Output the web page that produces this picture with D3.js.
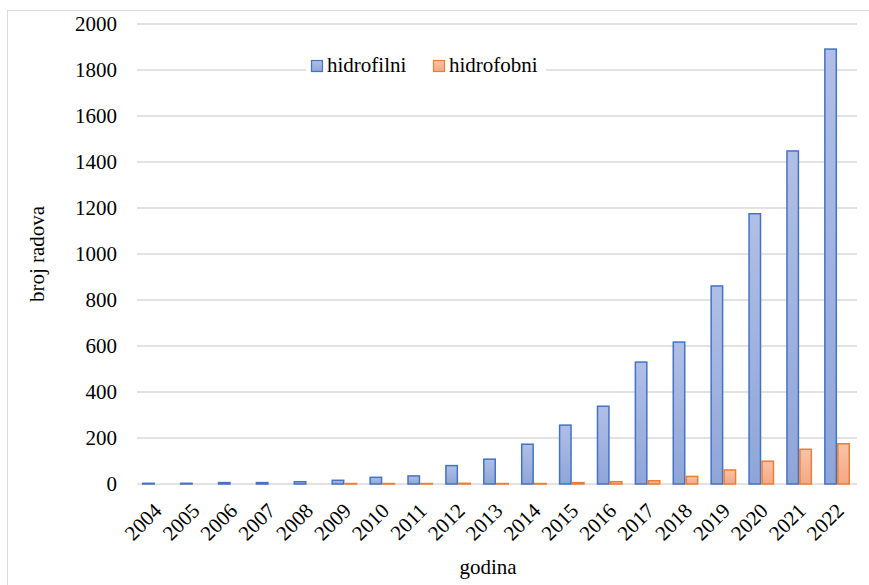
<!DOCTYPE html>
<html>
<head>
<meta charset="utf-8">
<script src="https://cdn.jsdelivr.net/npm/d3@7"></script>
<style>
  body { margin: 0; background: #fff; }
</style>
</head>
<body>
<div id="chart"></div>
<script>
const years = ["2004","2005","2006","2007","2008","2009","2010","2011","2012","2013","2014","2015","2016","2017","2018","2019","2020","2021","2022"];
const hidrofilni = [3, 3, 6, 6, 10, 16, 29, 35, 80, 108, 173, 256, 338, 530, 617, 861, 1175, 1448, 1891];
const hidrofobni = [0, 0, 0, 0, 0, 2, 2, 2, 3, 2, 2, 6, 10, 14, 33, 61, 99, 151, 175];
const yTicks = [0, 200, 400, 600, 800, 1000, 1200, 1400, 1600, 1800, 2000];
const seriesNames = ["hidrofilni", "hidrofobni"];

const W = 869, H = 585;
const margin = {top: 24, right: 12, bottom: 101, left: 137};
const width = W - margin.left - margin.right;
const height = H - margin.top - margin.bottom;
const serif = '"Liberation Serif", "Times New Roman", Times, "DejaVu Serif", serif';

const svg = d3.select("#chart").append("svg")
    .attr("width", W)
    .attr("height", H)
    .attr("font-family", serif)
    .attr("font-size", 21);

// gradients
const defs = svg.append("defs");
function grad(id, c1, c2) {
    const g = defs.append("linearGradient").attr("id", id)
        .attr("x1", 0).attr("y1", 0).attr("x2", 0).attr("y2", 1);
    g.append("stop").attr("offset", "0%").attr("stop-color", c1);
    g.append("stop").attr("offset", "100%").attr("stop-color", c2);
}
grad("gBlue", "#b0bfe6", "#8fa5d9");
grad("gOrange", "#f8c3a8", "#f4a882");

// outer chart border
svg.append("rect")
    .attr("x", 7.5).attr("y", 10.5)
    .attr("width", 900).attr("height", 600)
    .attr("fill", "none")
    .attr("stroke", "#d9d9d9");

const g = svg.append("g")
    .attr("transform", `translate(${margin.left},${margin.top})`);

const x = d3.scaleBand().domain(years).range([0, width]).paddingInner(0).paddingOuter(0);
const x1 = d3.scaleBand().domain(seriesNames).range([5, x.bandwidth() - 7]);
const y = d3.scaleLinear().domain([0, 2000]).range([height, 0]);

// gridlines
g.append("g")
    .selectAll("line")
    .data(yTicks)
    .join("line")
    .attr("x1", 0).attr("x2", width)
    .attr("y1", d => y(d)).attr("y2", d => y(d))
    .attr("stroke", "#d9d9d9")
    .attr("stroke-width", 1.3);

// y tick labels
const yAxis = g.append("g")
    .call(d3.axisLeft(y).tickValues(yTicks).tickFormat(d3.format("d")).tickSize(0).tickPadding(20))
    .attr("font-family", serif)
    .attr("font-size", 21);
yAxis.select(".domain").remove();

// bars
const groups = g.append("g")
    .selectAll("g")
    .data(years)
    .join("g")
    .attr("transform", d => `translate(${x(d)},0)`);

groups.append("rect")
    .attr("x", x1("hidrofilni") + 0.75)
    .attr("width", x1.bandwidth() - 1.5)
    .attr("y", (d, i) => y(hidrofilni[i]))
    .attr("height", (d, i) => height - y(hidrofilni[i]))
    .attr("fill", "url(#gBlue)")
    .attr("stroke", "#4472c4")
    .attr("stroke-width", 1.5);

groups.filter((d, i) => hidrofobni[i] > 0).append("rect")
    .attr("x", x1("hidrofobni") + 0.75)
    .attr("width", x1.bandwidth() - 1.5)
    .attr("y", d => y(hidrofobni[years.indexOf(d)]))
    .attr("height", d => height - y(hidrofobni[years.indexOf(d)]))
    .attr("fill", "url(#gOrange)")
    .attr("stroke", "#ed7d31")
    .attr("stroke-width", 1.5);

// x axis labels
const xAxis = g.append("g")
    .attr("transform", `translate(0,${height})`)
    .call(d3.axisBottom(x).tickSize(0).tickPadding(0))
    .attr("font-family", serif)
    .attr("font-size", 21);
xAxis.select(".domain").remove();
xAxis.selectAll("text")
    .style("text-anchor", "end")
    .attr("dx", "0")
    .attr("dy", "0")
    .attr("transform", "translate(7,28) rotate(-45)");

// axis titles
svg.append("text")
    .attr("x", 488).attr("y", 574)
    .attr("text-anchor", "middle")
    .attr("fill", "#000")
    .text("godina");

svg.append("text")
    .attr("transform", "translate(44,254) rotate(-90)")
    .attr("text-anchor", "middle")
    .attr("fill", "#000")
    .text("broj radova");

// legend
const legend = svg.append("g");
legend.append("rect")
    .attr("x", 306).attr("y", 52).attr("width", 240).attr("height", 26)
    .attr("fill", "#fff");
const legendColors = [["#4472c4", "url(#gBlue)"], ["#ed7d31", "url(#gOrange)"]];
const legendX = [311, 433];
seriesNames.forEach((name, i) => {
    legend.append("rect")
        .attr("x", legendX[i] + 0.5).attr("y", 60.5)
        .attr("width", 11).attr("height", 11)
        .attr("fill", legendColors[i][1])
        .attr("stroke", legendColors[i][0])
        .attr("stroke-width", 1.2);
    legend.append("text")
        .attr("x", legendX[i] + 16).attr("y", 72)
        .attr("fill", "#000")
        .text(name);
});
</script>
</body>
</html>
